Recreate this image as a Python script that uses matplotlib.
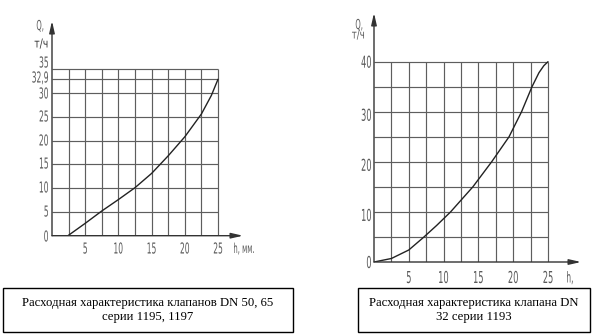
import matplotlib
matplotlib.use("Agg")
import matplotlib.pyplot as plt
from matplotlib.font_manager import FontProperties
from matplotlib.patches import PathPatch, Rectangle
from matplotlib.textpath import TextPath
from matplotlib.transforms import Affine2D

W, H, DPI = 600, 334, 100

# DN 50, 65 (series 1195, 1197)
left_h = [2.4, 5, 7.5, 10, 12.5, 15, 17.5, 20, 22.5, 24, 25]
left_q = [0, 2.6, 5.2, 7.6, 10.1, 13.1, 16.8, 20.8, 25.6, 29.5, 32.9]
left_xticks = [5, 10, 15, 20, 25]
left_hlines = [5, 10, 15, 20, 25, 30, 32.9, 35]
left_ylabels = ["0", "5", "10", "15", "20", "25", "30", "32,9", "35"]
left_caption = "Расходная характеристика клапанов DN 50, 65\nсерии 1195, 1197"

# DN 32 (series 1193)
right_h = [0, 2.5, 5, 7.1, 9, 11, 14.2, 16.9, 19.4, 21.2, 22.7, 23.7, 24.4, 25]
right_q = [0, 0.7, 2.4, 4.9, 7.3, 10, 15, 20, 25, 30, 35, 37.8, 39.2, 40]
right_xticks = [5, 10, 15, 20, 25]
right_hlines = [5, 10, 15, 20, 25, 30, 35, 40]
right_yticks = [0, 10, 20, 30, 40]
right_caption = "Расходная характеристика клапана DN\n32 серии 1193"

grid_v = [2.5, 5, 7.5, 10, 12.5, 15, 17.5, 20, 22.5, 25]

GRID = "#5e5e5e"
LABEL = "#5a5a5a"
SERIF = ["Liberation Serif", "DejaVu Serif"]
_glyphs = FontProperties(family="DejaVu Sans")


def narrow_text(fig, x, y, s, height=11, squeeze=0.5, ha="center", color=LABEL):
    """Draw condensed drafting-style text; x, y in pixels from top-left, y = centre of caps."""
    tp = TextPath((0, 0), s, size=10, prop=_glyphs)
    bb = tp.get_extents()
    k = height / 7.29  # DejaVu cap height is 0.729 em
    w = bb.width * k * squeeze
    x0 = {"left": x, "center": x - w / 2, "right": x - w}[ha]
    tr = (Affine2D().translate(-bb.x0, 0).scale(k * squeeze, k)
          .translate(x0, H - y - height / 2))
    fig.add_artist(PathPatch(tp, transform=tr, facecolor=color, edgecolor="none"))


def draw_chart(fig, x0, y0, sx, sy, xtop, ytop, hlines, h, q, x_arrow, y_arrow):
    """Grid, axis arrows and curve; (x0, y0) is the origin in pixels, sx/sy px per unit."""
    xmax = (x_arrow - x0) / sx
    ymax = (y0 - y_arrow) / sy
    ax = fig.add_axes([x0 / W, (H - y0) / H, xmax * sx / W, ymax * sy / H])
    ax.set_xlim(0, xmax)
    ax.set_ylim(0, ymax)
    ax.axis("off")
    ax.vlines(grid_v, 0, ytop, color=GRID, lw=0.85)
    ax.hlines(hlines, 0, xtop, color=GRID, lw=0.85)
    arrow = dict(arrowstyle="-|>,head_length=0.7,head_width=0.16", color="#333333",
                 lw=1.0, shrinkA=0, shrinkB=0)
    ax.annotate("", xy=(xmax, 0), xytext=(0, 0), arrowprops=arrow, annotation_clip=False)
    ax.annotate("", xy=(0, ymax), xytext=(0, 0), arrowprops=arrow, annotation_clip=False)
    ax.plot(h, q, color="#222222", lw=1.0, solid_capstyle="round", solid_joinstyle="round")
    return ax


fig = plt.figure(figsize=(W / DPI, H / DPI), dpi=DPI)

# left chart: origin at (52, 235.7) px
lsx, lsy = 166 / 25, 166.4 / 35
draw_chart(fig, 52, 235.7, lsx, lsy, 25, 35, left_hlines, left_h, left_q, 243, 21)
left_label_y = [236, 211, 187, 163, 140, 116, 93, 77, 62]
for yy, lab in zip(left_label_y, left_ylabels):
    narrow_text(fig, 48, yy, lab, ha="right")
for v in left_xticks:
    narrow_text(fig, 52 + v * lsx, 248, str(v))
narrow_text(fig, 234, 248, "h, мм.", height=10, ha="left")
narrow_text(fig, 40, 25, "Q,", height=10)
narrow_text(fig, 41, 43, "т/ч", height=9, squeeze=0.75, color="#333333")

# right chart: origin at (374, 262) px
rsx, rsy = 174 / 25, 200.3 / 40
draw_chart(fig, 374, 262, rsx, rsy, 25, 40, right_hlines, right_h, right_q, 581, 13)
for v in right_yticks:
    narrow_text(fig, 371, 262 - v * rsy + (3 if 0 < v < 40 else 0), str(v),
                height=12, ha="right")
for v in right_xticks:
    narrow_text(fig, 374 + v * rsx, 277, str(v), height=12)
narrow_text(fig, 567, 277, "h,", height=11, ha="left")
narrow_text(fig, 359, 24, "Q,", height=10)
narrow_text(fig, 358, 34, "т/ч", height=9, squeeze=0.7)

# captions in framed boxes
for (bx0, bx1, by0, by1), text in [((3, 293, 288, 332), left_caption),
                                   ((358, 590, 288, 332), right_caption)]:
    fig.add_artist(Rectangle((bx0 / W, 1 - by1 / H), (bx1 - bx0) / W, (by1 - by0) / H,
                             transform=fig.transFigure, fill=False,
                             edgecolor="black", lw=1.0))
    fig.text((bx0 + bx1) / 2 / W, 1 - (by0 + by1) / 2 / H, text, ha="center",
             va="center", fontsize=9.2, family=SERIF, linespacing=1.2)

fig.savefig("out.png", dpi=DPI, facecolor="white")
